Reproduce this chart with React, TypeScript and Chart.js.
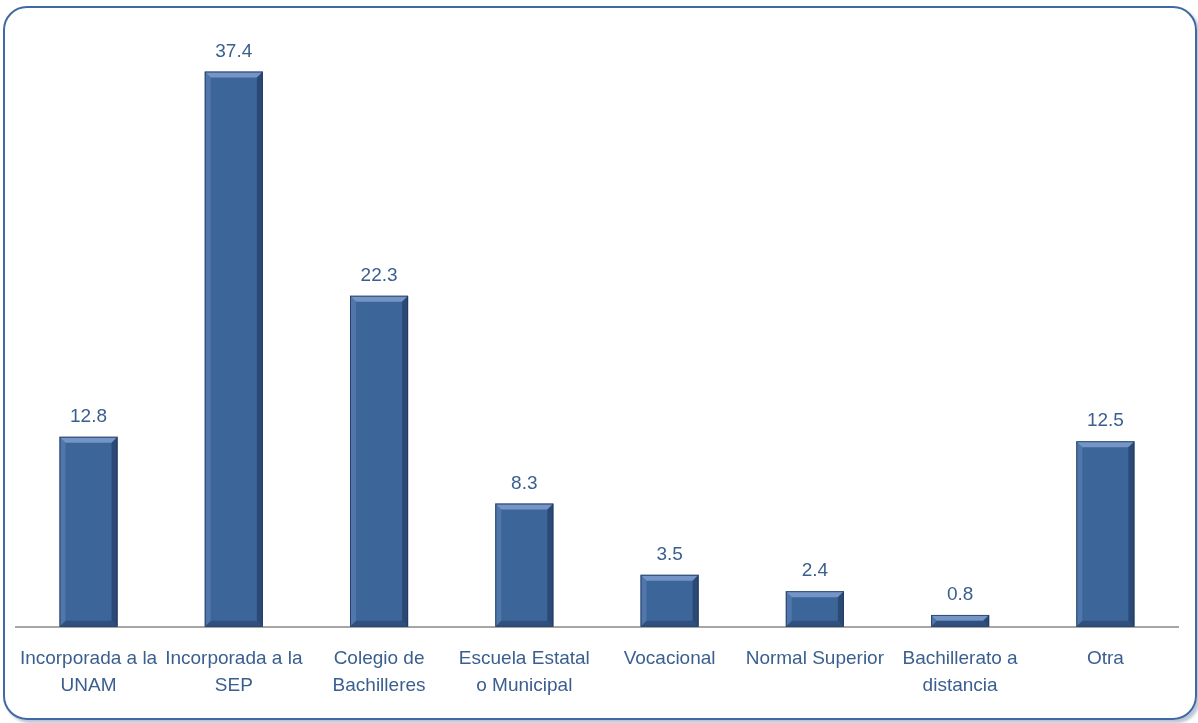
import React, { useEffect, useRef } from "react";
import { Chart, registerables } from "chart.js";

Chart.register(...registerables);

const categories: string[][] = [
  ["Incorporada a la", "UNAM"],
  ["Incorporada a la", "SEP"],
  ["Colegio de", "Bachilleres"],
  ["Escuela Estatal", "o Municipal"],
  ["Vocacional"],
  ["Normal Superior"],
  ["Bachillerato a", "distancia"],
  ["Otra"],
];
const values: number[] = [12.8, 37.4, 22.3, 8.3, 3.5, 2.4, 0.8, 12.5];

const FONT = "'Liberation Sans Narrow', 'Arial Narrow', 'Liberation Sans', Arial, sans-serif";
const TEXT = "#3A5F8F";

const bevelPlugin = {
  id: "bevel",
  afterDatasetsDraw(chart: any) {
    const ctx = chart.ctx;
    const meta = chart.getDatasetMeta(0);
    meta.data.forEach((bar: any, i: number) => {
      const { x, y, base, width } = bar.getProps(["x", "y", "base", "width"], true);
      const l = x - width / 2;
      const r = x + width / 2;
      const t = y;
      const b = base;
      const h = b - t;
      const e = Math.min(6, h / 2);
      ctx.save();
      ctx.fillStyle = "rgba(140,170,215,0.7)";
      ctx.beginPath();
      ctx.moveTo(l, t); ctx.lineTo(r, t); ctx.lineTo(r - e, t + e); ctx.lineTo(l + e, t + e); ctx.closePath(); ctx.fill();
      ctx.fillStyle = "rgba(110,145,195,0.4)";
      ctx.beginPath();
      ctx.moveTo(l, t); ctx.lineTo(l + e, t + e); ctx.lineTo(l + e, b - e); ctx.lineTo(l, b); ctx.closePath(); ctx.fill();
      ctx.fillStyle = "rgba(25,45,80,0.5)";
      ctx.beginPath();
      ctx.moveTo(r, t); ctx.lineTo(r - e, t + e); ctx.lineTo(r - e, b - e); ctx.lineTo(r, b); ctx.closePath(); ctx.fill();
      ctx.fillStyle = "rgba(25,45,80,0.35)";
      ctx.beginPath();
      ctx.moveTo(l, b); ctx.lineTo(l + e, b - e); ctx.lineTo(r - e, b - e); ctx.lineTo(r, b); ctx.closePath(); ctx.fill();
      ctx.strokeStyle = "rgba(30,55,95,0.8)";
      ctx.lineWidth = 1;
      ctx.strokeRect(l + 0.5, t + 0.5, width - 1, h - 1);
      ctx.fillStyle = TEXT;
      ctx.font = `19px ${FONT}`;
      ctx.textAlign = "center";
      ctx.textBaseline = "alphabetic";
      ctx.fillText(values[i].toFixed(1), x, t - 15);
      ctx.restore();
    });
  },
};

export default function App() {
  const ref = useRef<HTMLCanvasElement>(null);
  useEffect(() => {
    document.body.style.margin = "0";
    const chart = new Chart(ref.current!, {
      type: "bar",
      data: {
        labels: categories,
        datasets: [
          {
            data: values,
            backgroundColor: "#3C6599",
            borderWidth: 0,
            barPercentage: 0.4,
            categoryPercentage: 1,
          },
        ],
      },
      options: {
        animation: false,
        responsive: false,
        maintainAspectRatio: false,
        layout: { padding: { left: 14, right: 20, top: 33, bottom: 5 } },
        plugins: { legend: { display: false }, tooltip: { enabled: false } },
        scales: {
          x: {
            grid: { display: false, drawTicks: false },
            border: { display: true, color: "#A6A6A6", width: 2 },
            ticks: {
              color: TEXT,
              font: { family: FONT, size: 19, lineHeight: 1.4 },
              padding: 19,
              maxRotation: 0,
              autoSkip: false,
            },
          },
          y: { display: false, min: 0, max: 40 },
        },
      },
      plugins: [bevelPlugin],
    });
    return () => chart.destroy();
  }, []);
  return (
    <div style={{ position: "fixed", left: 0, top: 0, width: 1198, height: 723, background: "#fff" }}>
      <div
        style={{
          position: "absolute",
          left: 3,
          top: 6,
          width: 1190,
          height: 710,
          border: "2px solid #3F69A0",
          borderRadius: 24,
          boxShadow: "3px 3px 3px rgba(60,90,140,0.35)",
        }}
      />
      <canvas ref={ref} width={1198} height={723} style={{ position: "absolute", left: 0, top: 0 }} />
    </div>
  );
}
